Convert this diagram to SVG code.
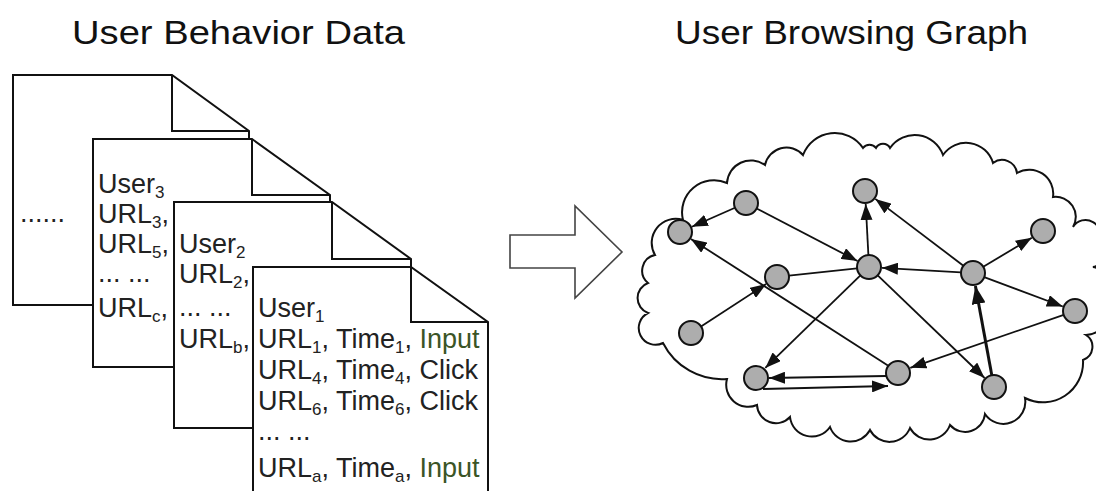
<svg xmlns="http://www.w3.org/2000/svg" width="1096" height="491" viewBox="0 0 1096 491">
  <style>
    .title { font-family: "Liberation Sans", Arial, sans-serif; font-size: 34px; fill: #111; }
    .doc { fill: #fff; stroke: #111; stroke-width: 2; stroke-linejoin: miter; }
    .fold { fill: none; stroke: #111; stroke-width: 2; }
    .txt { font-family: "Liberation Sans", Arial, sans-serif; font-size: 27px; fill: #222; }
    .sub { font-size: 17px; }
    .inp { fill: #3b5526; }
    .node circle { fill: #adadad; stroke: #111; stroke-width: 2; }
    .edge { stroke: #111; stroke-width: 1.8; fill: none; }
    .edge.thick { stroke-width: 3; }
    .cloud { fill: #fff; stroke: #111; stroke-width: 2; }
  </style>
  <defs>
    <marker id="arrow" viewBox="0 0 16 12" refX="16" refY="6" markerWidth="16" markerHeight="12" markerUnits="userSpaceOnUse" orient="auto">
      <path d="M0,0 L16,6 L0,12 Z" fill="#111"/>
    </marker>
    <marker id="arrowBig" viewBox="0 0 18 14" refX="18" refY="7" markerWidth="18" markerHeight="14" markerUnits="userSpaceOnUse" orient="auto">
      <path d="M0,0 L18,7 L0,14 Z" fill="#111"/>
    </marker>
  </defs>

  <rect width="1096" height="491" fill="#fff"/>

  <!-- headings -->
  <text class="title" x="72" y="44" textLength="333" lengthAdjust="spacingAndGlyphs">User Behavior Data</text>
  <text class="title" x="675" y="44" textLength="353" lengthAdjust="spacingAndGlyphs">User Browsing Graph</text>

  <!-- stacked log pages, back to front -->
  <g id="page4">
    <path class="doc" d="M13,75 H172 L249,131 V305 H13 Z"/>
    <path class="fold" d="M172,75 V131 H249"/>
    <text class="txt" x="20" y="222">......</text>
  </g>
  <g id="page3">
    <path class="doc" d="M93,139 H252 L330,195 V367 H93 Z"/>
    <path class="fold" d="M252,139 V195 H330"/>
    <text class="txt" x="98" y="193">User<tspan class="sub" dy="5">3</tspan></text>
    <text class="txt" x="98" y="223">URL<tspan class="sub" dy="5">3</tspan><tspan dy="-5">,</tspan></text>
    <text class="txt" x="98" y="253">URL<tspan class="sub" dy="5">5</tspan><tspan dy="-5">,</tspan></text>
    <text class="txt" x="98" y="282">... ...</text>
    <text class="txt" x="98" y="317">URL<tspan class="sub" dy="5">c</tspan><tspan dy="-5">,</tspan></text>
  </g>
  <g id="page2">
    <path class="doc" d="M174,202 H332 L411,259 V428 H174 Z"/>
    <path class="fold" d="M332,202 V259 H411"/>
    <text class="txt" x="179" y="253">User<tspan class="sub" dy="5">2</tspan></text>
    <text class="txt" x="179" y="283">URL<tspan class="sub" dy="5">2</tspan><tspan dy="-5">,</tspan></text>
    <text class="txt" x="179" y="316">... ...</text>
    <text class="txt" x="179" y="348">URL<tspan class="sub" dy="5">b</tspan><tspan dy="-5">,</tspan></text>
  </g>
  <g id="page1">
    <path class="doc" d="M253,267 H411 L488,322 V493 H253 Z"/>
    <path class="fold" d="M411,267 V322 H488"/>
    <text class="txt" x="258" y="317">User<tspan class="sub" dy="5">1</tspan></text>
    <text class="txt" x="258" y="348">URL<tspan class="sub" dy="5">1</tspan><tspan dy="-5">, Time</tspan><tspan class="sub" dy="5">1</tspan><tspan dy="-5">, </tspan><tspan class="inp">Input</tspan></text>
    <text class="txt" x="258" y="379">URL<tspan class="sub" dy="5">4</tspan><tspan dy="-5">, Time</tspan><tspan class="sub" dy="5">4</tspan><tspan dy="-5">, Click</tspan></text>
    <text class="txt" x="258" y="410">URL<tspan class="sub" dy="5">6</tspan><tspan dy="-5">, Time</tspan><tspan class="sub" dy="5">6</tspan><tspan dy="-5">, Click</tspan></text>
    <text class="txt" x="258" y="440">... ...</text>
    <text class="txt" x="258" y="477">URL<tspan class="sub" dy="5">a</tspan><tspan dy="-5">, Time</tspan><tspan class="sub" dy="5">a</tspan><tspan dy="-5">, </tspan><tspan class="inp">Input</tspan></text>
  </g>

  <!-- transformation arrow -->
  <g id="transform-arrow">
    <polygon points="510,235 575,235 575,206 622,252 575,298 575,268 510,268" fill="#fff" stroke="#444" stroke-width="1.6"/>
  </g>

  <!-- cloud boundary of the browsing graph -->
  <g id="cloud">
    <path class="cloud" d="M655,255
      A24 24 0 0 1 683,220 A32 32 0 0 1 727,183 A24 24 0 0 1 765,165 A22 22 0 0 1 803,155
      A34 34 0 0 1 863,148 A8 8 0 0 1 876,148 A8 8 0 0 1 890,148 A30 30 0 0 1 943,155
      A28 28 0 0 1 993,163 A15 15 0 0 1 1017,173 A24 24 0 0 1 1053,197 A20 20 0 0 1 1073,227
      A14 14 0 0 1 1098,242 A14 14 0 0 1 1093,267 A15 15 0 0 1 1098,295 A22 22 0 0 1 1086,335
      A14 14 0 0 1 1083,360 A40 40 0 0 1 1025,398 A22 22 0 0 1 985,414 A20 20 0 0 1 950,425
      A22 22 0 0 1 910,428 A22 22 0 0 1 870,430 A22 22 0 0 1 830,427 A22 22 0 0 1 790,417
      A19 19 0 0 1 757,405 A22 22 0 0 1 727,379 A66 66 0 0 1 663,343 A16 16 0 0 1 648,313
      A16 16 0 0 1 648,283 A16 16 0 0 1 655,255 Z"/>
  </g>

  <!-- browsing transitions -->
  <g id="connectors">
    <line class="edge" x1="735" y1="207.8" x2="691.9" y2="226.8" marker-end="url(#arrow)"/>
    <line class="edge" x1="756.6" y1="208.5" x2="857.5" y2="261" marker-end="url(#arrow)"/>
    <line class="edge" x1="868.4" y1="255" x2="865.7" y2="204" marker-end="url(#arrow)"/>
    <line class="edge" x1="963.4" y1="265.7" x2="875.3" y2="198.9" marker-end="url(#arrow)"/>
    <line class="edge" x1="961" y1="272.3" x2="882" y2="267.8" marker-end="url(#arrow)"/>
    <line class="edge" x1="983.3" y1="266.8" x2="1031.8" y2="237.7" marker-end="url(#arrow)"/>
    <line class="edge" x1="984.2" y1="277.2" x2="1062.8" y2="306.5" marker-end="url(#arrow)"/>
    <line class="edge thick" x1="991.8" y1="375.2" x2="975.4" y2="286" marker-end="url(#arrowBig)"/>
    <line class="edge" x1="701" y1="326.4" x2="766.1" y2="284.1" marker-end="url(#arrow)"/>
    <line class="edge" x1="789" y1="275.7" x2="857" y2="268.3"/>
    <line class="edge" x1="860.4" y1="275.4" x2="765.3" y2="367.9" marker-end="url(#arrow)"/>
    <line class="edge" x1="877.7" y1="275.3" x2="984.6" y2="378" marker-end="url(#arrow)"/>
    <line class="edge" x1="887.9" y1="365.5" x2="690.9" y2="239" marker-end="url(#arrow)"/>
    <line class="edge" x1="1063.7" y1="314.9" x2="910.3" y2="367.8" marker-end="url(#arrow)"/>
    <line class="edge" x1="886" y1="376" x2="769" y2="378" marker-end="url(#arrow)"/>
    <line class="edge" x1="763" y1="389" x2="888" y2="386" marker-end="url(#arrow)"/>
  </g>

  <!-- pages visited -->
  <g id="n1" class="node"><circle cx="680" cy="232" r="12"/></g>
  <g id="n2" class="node"><circle cx="746" cy="203" r="12"/></g>
  <g id="n3" class="node"><circle cx="865" cy="191" r="12"/></g>
  <g id="n4" class="node"><circle cx="1043" cy="231" r="12"/></g>
  <g id="n5" class="node"><circle cx="869" cy="267" r="12"/></g>
  <g id="n6" class="node"><circle cx="777" cy="277" r="12"/></g>
  <g id="n7" class="node"><circle cx="973" cy="273" r="12"/></g>
  <g id="n8" class="node"><circle cx="1075" cy="311" r="12"/></g>
  <g id="n9" class="node"><circle cx="691" cy="333" r="12"/></g>
  <g id="n10" class="node"><circle cx="756" cy="378" r="12"/></g>
  <g id="n11" class="node"><circle cx="898" cy="373" r="12"/></g>
  <g id="n12" class="node"><circle cx="994" cy="387" r="12"/></g>
</svg>
